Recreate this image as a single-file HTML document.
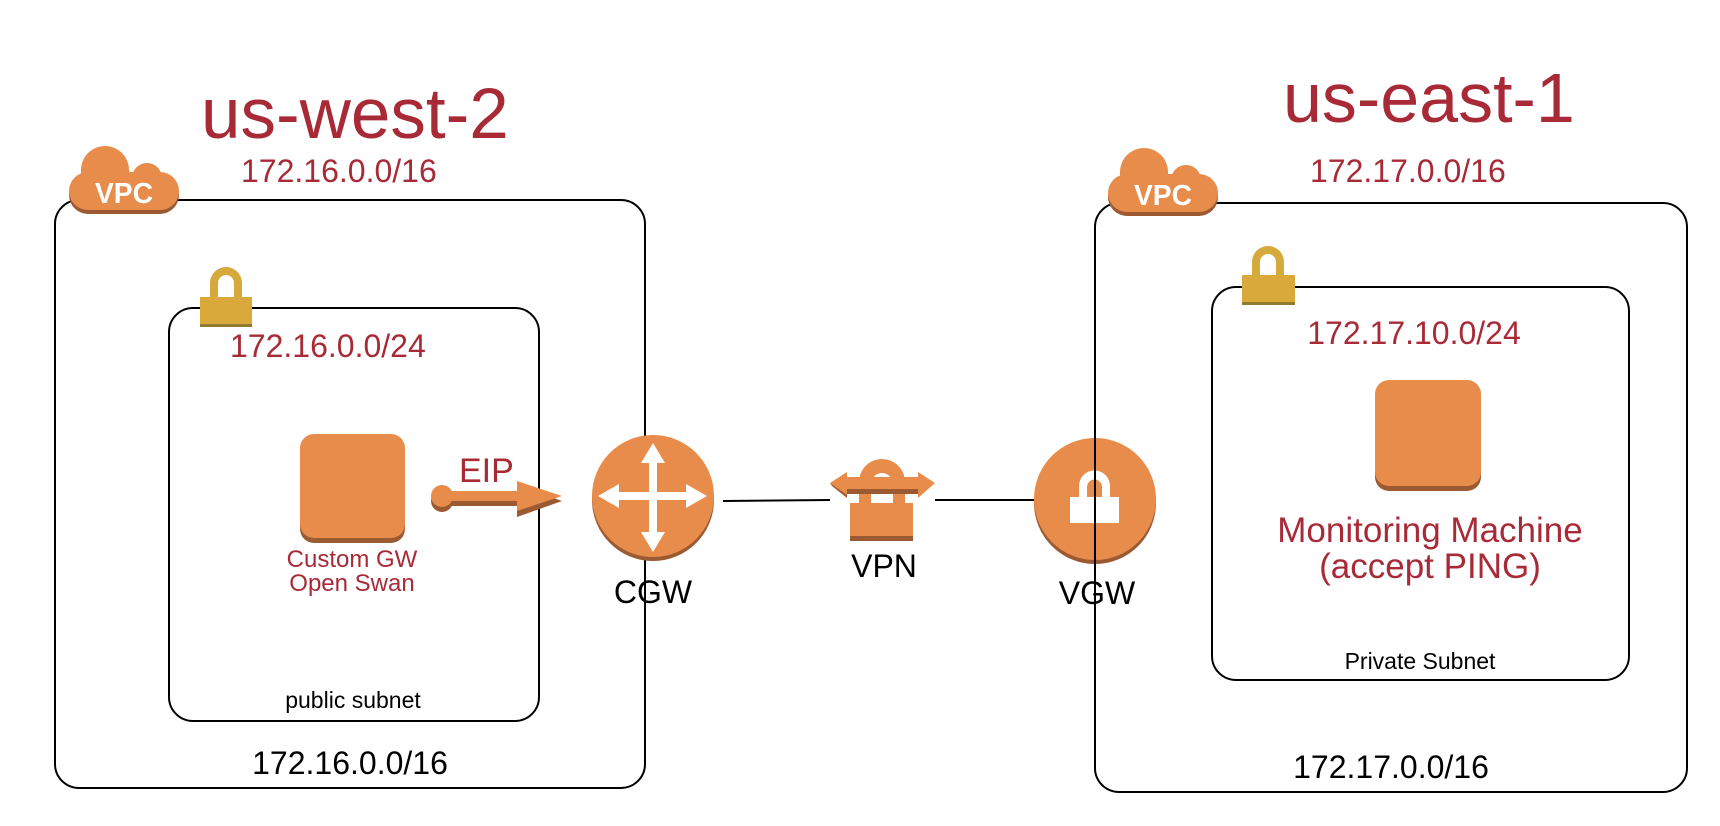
<!DOCTYPE html>
<html><head><meta charset="utf-8"><style>
html,body{margin:0;padding:0;background:#fff;}
svg{display:block;}
text{font-family:"Liberation Sans",sans-serif;}
</style></head><body>
<svg width="1720" height="826" viewBox="0 0 1720 826" xmlns="http://www.w3.org/2000/svg">
<defs>
<g id="cloud">
  <g fill="#9c5a32" transform="translate(0,4)">
    <circle cx="105" cy="170" r="24"/><circle cx="147" cy="178" r="15"/>
    <rect x="69" y="172" width="110" height="38" rx="19"/>
  </g>
  <g fill="#e88c4b">
    <circle cx="105" cy="170" r="24"/><circle cx="147" cy="178" r="15"/>
    <circle cx="160" cy="192" r="18"/>
    <rect x="69" y="172" width="110" height="38" rx="19"/>
  </g>
  <text x="124" y="203" fill="#fff" font-size="29" font-weight="bold" text-anchor="middle" textLength="58" lengthAdjust="spacingAndGlyphs">VPC</text>
</g>
</defs>

<!-- Left region -->
<text x="201" y="138" fill="#a82a37" font-size="71">us-west-2</text>
<text x="241" y="182" fill="#a82a37" font-size="32">172.16.0.0/16</text>
<rect x="55" y="200" width="590" height="588" rx="24" fill="none" stroke="#000" stroke-width="2"/>
<use href="#cloud"/>
<rect x="169" y="308" width="370" height="413" rx="24" fill="none" stroke="#000" stroke-width="2"/>
<g>
  <path d="M210 300 V283 a16 16 0 0 1 32 0 V300 h-8 V283 a8 8 0 0 0 -16 0 V300 Z" fill="#d6a93c"/>
  <rect x="200" y="297" width="52" height="30" fill="#d9a93b"/>
  <rect x="200" y="324" width="52" height="3" fill="#8f7a30"/>
</g>
<text x="230" y="357" fill="#a82a37" font-size="32">172.16.0.0/24</text>
<rect x="300" y="438" width="105" height="105" rx="14" fill="#9c5a32"/>
<rect x="300" y="434" width="105" height="104" rx="14" fill="#e88c4b"/>
<text x="352" y="567" fill="#a82a37" font-size="24" text-anchor="middle">Custom GW</text>
<text x="352" y="591" fill="#a82a37" font-size="24" text-anchor="middle">Open Swan</text>
<text x="353" y="708" fill="#000" font-size="23" text-anchor="middle">public subnet</text>
<text x="350" y="774" fill="#000" font-size="32" text-anchor="middle">172.16.0.0/16</text>
<text x="459" y="482" fill="#a82a37" font-size="34">EIP</text>
<g fill="#9c5a32" transform="translate(0,4)">
  <circle cx="442" cy="497" r="11"/><rect x="442" y="492" width="80" height="10"/>
  <polygon points="517,481 562,497 517,513"/>
</g>
<g fill="#e88c4b">
  <circle cx="442" cy="496" r="11"/><rect x="442" y="491" width="80" height="10"/>
  <polygon points="517,481 562,496 517,511"/>
</g>
<!-- CGW -->
<line x1="723" y1="501" x2="830" y2="500" stroke="#000" stroke-width="2"/>
<circle cx="653" cy="500" r="61" fill="#9c5a32"/>
<circle cx="653" cy="496" r="61" fill="#e88c4b"/>
<g fill="#fff">
  <rect x="649" y="455" width="8" height="85"/>
  <rect x="610" y="492" width="86" height="8"/>
  <polygon points="653,443 641,463 665,463"/>
  <polygon points="653,552 641,532 665,532"/>
  <polygon points="598,496 619,484 619,508"/>
  <polygon points="707,496 686,484 686,508"/>
</g>
<text x="653" y="603" fill="#000" font-size="32" text-anchor="middle">CGW</text>
<!-- VPN -->
<line x1="935" y1="500" x2="1034" y2="500" stroke="#000" stroke-width="2"/>
<g>
  <path d="M859 503 V482 a23 23 0 0 1 46 0 V503 h-12 V484 a11 11 0 0 0 -22 0 V503 Z" fill="#e88c4b"/>
  <polygon points="830,483 847,472 847,477 918,477 918,472 935,483 918,498 918,493 847,493 847,498" fill="#e88c4b"/>
  <polygon points="830,483 847,495 847,498 832,486" fill="#9c5a32"/>
  <rect x="847" y="489" width="71" height="5" fill="#9c5a32"/>
  <rect x="850" y="503" width="63" height="38" fill="#e88c4b"/>
  <rect x="850" y="536" width="63" height="5" fill="#9c5a32"/>
</g>
<text x="884" y="577" fill="#000" font-size="32" text-anchor="middle">VPN</text>
<!-- VGW -->
<circle cx="1095" cy="503" r="61" fill="#9c5a32"/>
<circle cx="1095" cy="499" r="61" fill="#e88c4b"/>
<path d="M1079 498 V486 a15.5 15.5 0 0 1 31 0 V498 h-8 V487 a7.5 7.5 0 0 0 -15 0 V498 Z" fill="#fff"/>
<rect x="1070" y="497" width="49" height="26" fill="#fff"/>
<text x="1097" y="604" fill="#000" font-size="32" text-anchor="middle">VGW</text>

<!-- Right region -->
<text x="1283" y="122" fill="#a82a37" font-size="70">us-east-1</text>
<text x="1310" y="182" fill="#a82a37" font-size="32">172.17.0.0/16</text>
<rect x="1095" y="203" width="592" height="589" rx="24" fill="none" stroke="#000" stroke-width="2"/>
<use href="#cloud" transform="translate(1039,2)"/>
<rect x="1212" y="287" width="417" height="393" rx="24" fill="none" stroke="#000" stroke-width="2"/>
<g>
  <path d="M1252 280 V262 a16 16 0 0 1 32 0 V280 h-8 V262 a8 8 0 0 0 -16 0 V280 Z" fill="#d6a93c"/>
  <rect x="1242" y="275" width="53" height="30" fill="#d9a93b"/>
  <rect x="1242" y="302" width="53" height="3" fill="#8f7a30"/>
</g>
<text x="1414" y="344" fill="#a82a37" font-size="32" text-anchor="middle">172.17.10.0/24</text>
<rect x="1375" y="385" width="106" height="106" rx="14" fill="#9c5a32"/>
<rect x="1375" y="380" width="106" height="106" rx="14" fill="#e88c4b"/>
<text x="1430" y="542" fill="#a82a37" font-size="35" text-anchor="middle">Monitoring Machine</text>
<text x="1430" y="578" fill="#a82a37" font-size="35" text-anchor="middle">(accept PING)</text>
<text x="1420" y="669" fill="#000" font-size="23" text-anchor="middle">Private Subnet</text>
<text x="1391" y="778" fill="#000" font-size="32" text-anchor="middle">172.17.0.0/16</text>
</svg>
</body></html>
